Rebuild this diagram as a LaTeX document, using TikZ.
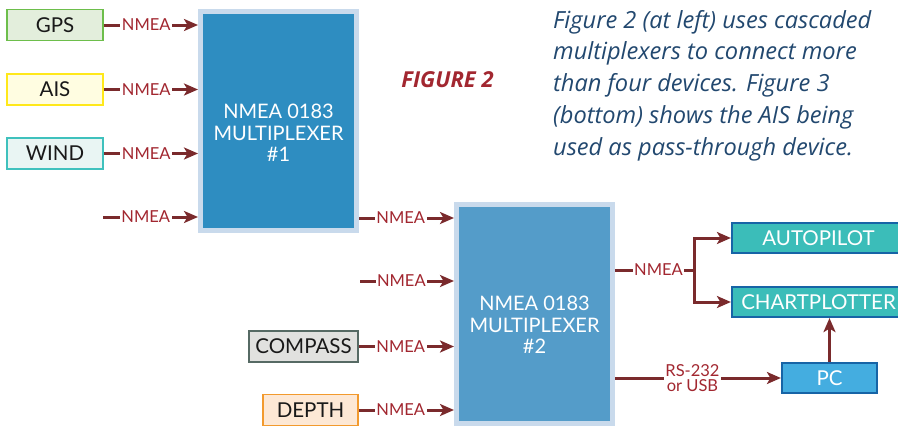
\documentclass[tikz,border=0pt]{standalone}
\usepackage{fontspec}
\setmainfont{Lato}
\newfontfamily\parafont{Open Sans}
\usetikzlibrary{arrows.meta,calc}
\definecolor{gpsfill}{HTML}{E3EEDC}\definecolor{gpsline}{HTML}{6DBE4B}
\definecolor{aisfill}{HTML}{FFFDE1}\definecolor{aisline}{HTML}{FFE81A}
\definecolor{windfill}{HTML}{E9F5F3}\definecolor{windline}{HTML}{3FC1BD}
\definecolor{compfill}{HTML}{E1E1DF}\definecolor{compline}{HTML}{566A64}
\definecolor{depthfill}{HTML}{FDE8D5}\definecolor{depthline}{HTML}{F29A2E}
\definecolor{muxa}{HTML}{2E8DC1}\definecolor{muxb}{HTML}{549CC9}
\definecolor{muxedge}{HTML}{C9DAEC}
\definecolor{teal}{HTML}{3BBDB9}\definecolor{blueedge}{HTML}{1764A6}
\definecolor{pcfill}{HTML}{44ADE0}
\definecolor{wire}{HTML}{7A2A2C}
\definecolor{lblred}{HTML}{A22730}
\definecolor{paratext}{HTML}{22486F}
\tikzset{
  dev/.style={rectangle, line width=1.8pt, minimum height=31pt, inner sep=0pt, font=\fontsize{20.5}{20.5}\selectfont, text=black!90},
  outbox/.style={dev, draw=blueedge, text=white, line width=2.2pt, minimum height=30pt},
  mux/.style={rectangle, draw=muxedge, line width=5pt, minimum width=156pt, minimum height=219pt},
  muxtext/.style={text=white, align=center, inner sep=0pt, font=\fontsize{20}{21.5}\selectfont},
  wirel/.style={draw=wire, line width=3pt},
  arr/.style={wirel, -{Stealth[length=14pt,width=12pt,inset=3.5pt]}},
  lbl/.style={fill=white, text=lblred, inner sep=1.5pt, font=\fontsize{16.5}{16.5}\selectfont}
}
\begin{document}
\begin{tikzpicture}[x=1pt,y=-1pt]
\useasboundingbox (0,0) rectangle (898,426);
\clip (0,0) rectangle (898,426);
% devices
\node[dev, fill=gpsfill, draw=gpsline, minimum width=96pt] (gps) at (55,25) {GPS};
\node[dev, fill=aisfill, draw=aisline, minimum width=96pt] (ais) at (55,89.5) {AIS};
\node[dev, fill=windfill, draw=windline, minimum width=96pt] (wind) at (55,153.5) {WIND};
\coordinate (free1) at (103,217);
% mux 1
\node[mux, fill=muxa] (mux1) at (278.5,121) {};
\node[muxtext] (mux1t) at ($(mux1.center)+(0,12)$) {NMEA 0183\\MULTIPLEXER\\\#1};
% mux 2
\node[mux, fill=muxb] (mux2) at (534.5,314) {};
\node[muxtext] (mux2t) at ($(mux2.center)+(0,11)$) {NMEA 0183\\MULTIPLEXER\\\#2};
\node[dev, fill=compfill, draw=compline, minimum width=109pt] (compass) at (303.5,346.5) {COMPASS};
\node[dev, fill=depthfill, draw=depthline, minimum width=95pt] (depth) at (310.5,410) {DEPTH};
\coordinate (free2) at (360,281);
% outputs
\node[outbox, fill=teal, minimum width=173pt] (auto) at (818.5,238) {AUTOPILOT};
\node[outbox, fill=teal, minimum width=173pt] (chart) at (818.5,302) {CHARTPLOTTER};
\node[outbox, fill=pcfill, minimum width=95pt] (pc) at (829.5,378) {PC};
\coordinate (junc) at (694,270);
% connectors into mux 1
\draw[arr] (gps.east) -- node[lbl, pos=0.45] {NMEA} (gps.east -| mux1.west);
\draw[arr] (ais.east) -- node[lbl, pos=0.45] {NMEA} (ais.east -| mux1.west);
\draw[arr] (wind.east) -- node[lbl, pos=0.45] {NMEA} (wind.east -| mux1.west);
\draw[arr] (free1) -- node[lbl, pos=0.45] {NMEA} (free1 -| mux1.west);
% connectors into mux 2
\draw[arr] (mux1.east |- 0,218) -- node[lbl, pos=0.44] {NMEA} (mux2.west |- 0,218);
\draw[arr] (free2) -- node[lbl, pos=0.44] {NMEA} (free2 -| mux2.west);
\draw[arr] (compass.east) -- node[lbl, pos=0.44] {NMEA} (compass.east -| mux2.west);
\draw[arr] (depth.east) -- node[lbl, pos=0.44] {NMEA} (depth.east -| mux2.west);
% outputs
\draw[wirel] (mux2.east |- junc) -- node[lbl, pos=0.55] {NMEA} (junc);
\draw[arr] (junc) |- (auto.west);
\draw[arr] (junc) |- (chart.west);
\draw[arr] (mux2.east |- pc.west) -- node[lbl, pos=0.467, align=center, font=\fontsize{16.5}{15}\selectfont, inner sep=1pt] {RS-232\\or USB} (pc.west);
\draw[arr] (pc.north) -- (pc.north |- chart.south);
% captions
\node[anchor=base, text=lblred, font=\parafont\bfseries\itshape\fontsize{22}{22}\selectfont, inner sep=0pt] (fig) at (447.5,87) {FIGURE 2};
\node[anchor=base west, text=paratext, align=left, inner sep=0pt, font=\parafont\itshape\fontsize{23.6}{31.7}\selectfont] (para) at (553,155) {Figure 2 (at left) uses cascaded\\multiplexers to connect more\\than four devices. Figure 3\\(bottom) shows the AIS being\\used as pass-through device.};
\end{tikzpicture}
\end{document}
